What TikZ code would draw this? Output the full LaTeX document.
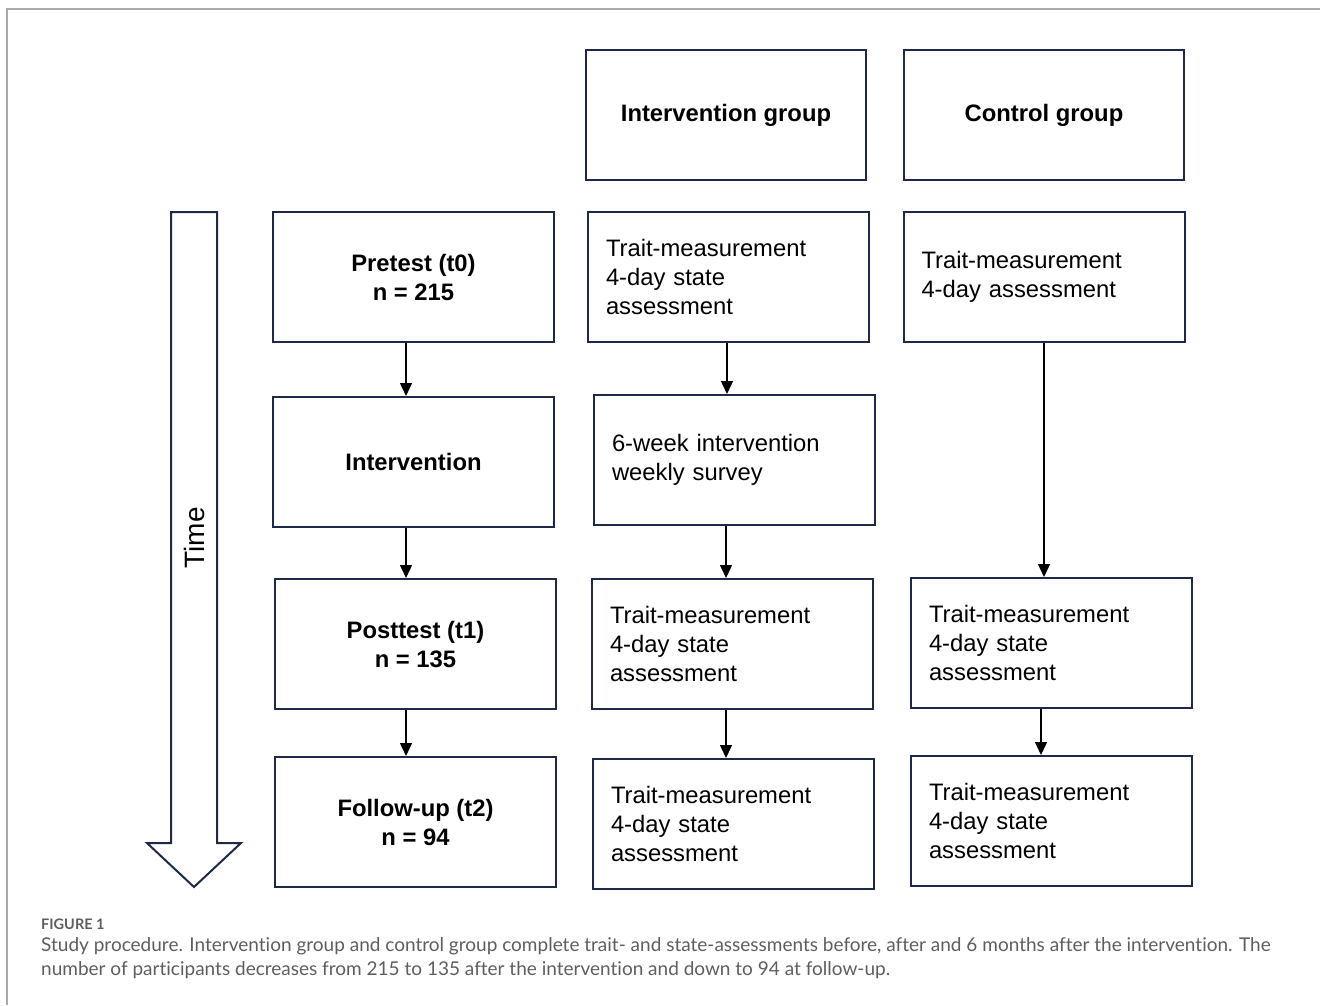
\documentclass[tikz,border=0pt]{standalone}
\usepackage{fontspec}
\setmainfont{Liberation Sans}
\newfontfamily\capfont[Ligatures=NoCommon]{Lato}
\usetikzlibrary{arrows.meta}
\definecolor{boxcol}{HTML}{1E2A45}
\definecolor{capgray}{HTML}{5E5E5E}
\definecolor{framegray}{HTML}{AAAAAA}
\tikzset{
  box/.style={draw=boxcol, line width=2pt, inner sep=0pt, minimum width=281pt, minimum height=130pt, font=\fontsize{23.8}{29}\selectfont},
  headbox/.style={box, font=\bfseries\fontsize{23.8}{29}\selectfont, align=center},
  leftbox/.style={box, font=\bfseries\fontsize{23.8}{29}\selectfont, align=center},
  txtbox/.style={box, align=left, text width=245pt, inner xsep=18pt},
  arr/.style={black, line width=1.4pt, -{Triangle[width=12pt,length=13pt]}}
}
\begin{document}
\begin{tikzpicture}[x=1pt,y=-1pt]
\useasboundingbox (0,0) rectangle (1320,1005);
% frame
\draw[framegray, line width=1.5pt] (7,1005) -- (7,9) -- (1320,9);
% header boxes
\node[headbox, minimum width=280pt] (igh) at (726,115) {Intervention group};
\node[headbox, minimum width=280pt] (cgh) at (1044,115) {Control group};
% left column
\node[leftbox] (pre) at (413.5,277) {Pretest (t0)\\n = 215};
\node[leftbox] (intv) at (413.5,462) {Intervention};
\node[leftbox] (post) at (415.5,644) {Posttest (t1)\\n = 135};
\node[leftbox] (fu) at (415.5,822) {Follow-up (t2)\\n = 94};
% intervention group column
\node[txtbox] (ig1) at (728.5,277) {Trait-measurement\\4-day state\\assessment};
\node[txtbox] (ig2) at (734.5,460) {6-week intervention\\weekly survey};
\node[txtbox] (ig3) at (732.5,644) {Trait-measurement\\4-day state\\assessment};
\node[txtbox, text width=244pt] (ig4) at (733,824) {Trait-measurement\\4-day state\\assessment};
% control group column
\node[txtbox] (cg1) at (1044,277) {Trait-measurement\\4-day assessment};
\node[txtbox] (cg3) at (1051.5,643) {Trait-measurement\\4-day state\\assessment};
\node[txtbox] (cg4) at (1051.5,821) {Trait-measurement\\4-day state\\assessment};
% x positions of connectors
\coordinate (xa) at (406,0);
\coordinate (xb) at (727,0);
\coordinate (xc) at (726,0);
\coordinate (xd) at (1044,0);
\coordinate (xe) at (1041,0);
% connectors
\draw[arr] (pre.south -| xa) -- (intv.north -| xa);
\draw[arr] (intv.south -| xa) -- (post.north -| xa);
\draw[arr] (post.south -| xa) -- (fu.north -| xa);
\draw[arr] (ig1.south -| xb) -- (ig2.north -| xb);
\draw[arr] (ig2.south -| xc) -- (ig3.north -| xc);
\draw[arr] (ig3.south -| xc) -- (ig4.north -| xc);
\draw[arr] (cg1.south -| xd) -- (cg3.north -| xd);
\draw[arr] (cg3.south -| xe) -- (cg4.north -| xe);
% time arrow
\draw[boxcol, line width=2pt, line join=miter] (171,212) -- (217,212) -- (217,843) -- (241,843) -- (194,887) -- (147,843) -- (171,843) -- cycle;
\node[rotate=90, font=\fontsize{28}{32}\selectfont, inner sep=0pt] (time) at (194,538) {Time};
% caption
\node[anchor=west, inner sep=0pt, text=capgray, font=\capfont\bfseries\fontsize{14.5}{16}\selectfont] (figlabel) at (41,924) {FIGURE 1};
\node[anchor=north west, inner sep=0pt, align=left, text=capgray, font=\capfont\fontsize{19}{24}\selectfont] (caption) at (41,937) {Study procedure. Intervention group and control group complete trait- and state-assessments before, after and 6 months after the intervention. The\\number of participants decreases from 215 to 135 after the intervention and down to 94 at follow-up.};
\end{tikzpicture}
\end{document}
